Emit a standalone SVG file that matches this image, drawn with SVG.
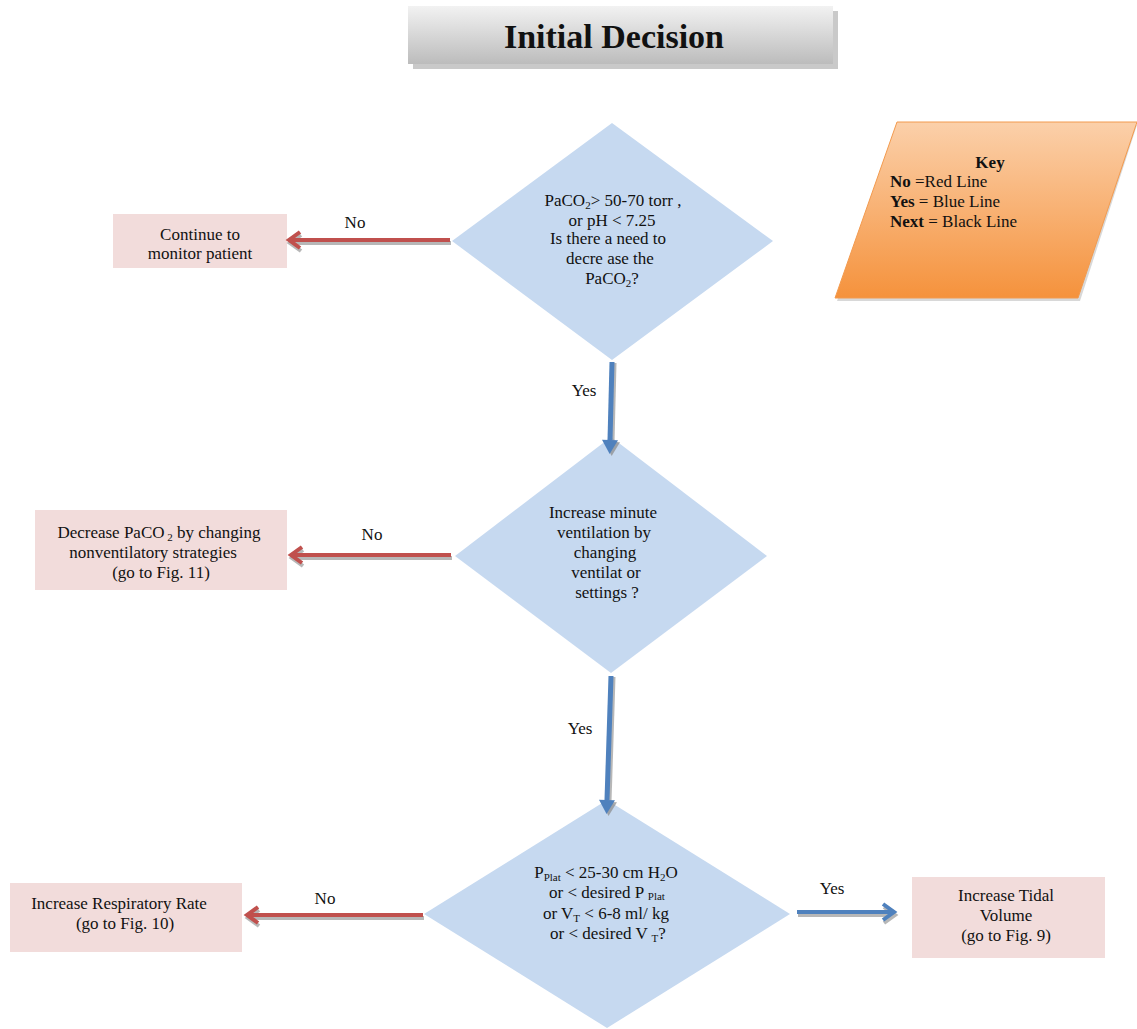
<svg xmlns="http://www.w3.org/2000/svg" width="1137" height="1029" viewBox="0 0 1137 1029">
  <style>
    text { font-family: "Liberation Serif", "Times New Roman", serif; fill: #111; }
    .t { font-size: 17px; text-anchor: middle; }
    .lbl { font-size: 17px; text-anchor: middle; }
    .key { font-size: 17px; }
    .b { font-weight: bold; }
    .sub { font-size: 11px; }
    .diamond { fill: #c6d9f0; }
    .box { fill: #f2dcdb; }
    .no { stroke: #c0504d; stroke-width: 4; fill: none; }
    .yes { stroke: #4f81bd; stroke-width: 5; fill: none; }
    .shadow { stroke: #9a9a9a; opacity: 0.7; }
  </style>
  <defs>
    <linearGradient id="titleFill" x1="0" y1="0" x2="0" y2="1">
      <stop offset="0" stop-color="#f2f2f2"/>
      <stop offset="1" stop-color="#bcbcbc"/>
    </linearGradient>
    <linearGradient id="keyFill" x1="0" y1="0" x2="0" y2="1">
      <stop offset="0" stop-color="#fbd0aa"/>
      <stop offset="1" stop-color="#f5923c"/>
    </linearGradient>
    <marker id="chevRed" viewBox="-16 -12 20 24" refX="-2" refY="0" markerWidth="20" markerHeight="24" markerUnits="userSpaceOnUse" orient="auto" overflow="visible">
      <path d="M-12,-8 L-1,0 L-12,8" fill="none" stroke="#c0504d" stroke-width="4"/>
    </marker>
    <marker id="chevBlue" viewBox="-16 -12 20 24" refX="-2" refY="0" markerWidth="20" markerHeight="24" markerUnits="userSpaceOnUse" orient="auto" overflow="visible">
      <path d="M-12,-8 L-1,0 L-12,8" fill="none" stroke="#4f81bd" stroke-width="4"/>
    </marker>
    <marker id="chevGray" viewBox="-16 -12 20 24" refX="-2" refY="0" markerWidth="20" markerHeight="24" markerUnits="userSpaceOnUse" orient="auto" overflow="visible">
      <path d="M-12,-8 L-1,0 L-12,8" fill="none" stroke="#9a9a9a" stroke-width="4"/>
    </marker>
    <marker id="triBlue" viewBox="-16 -10 18 20" refX="-14" refY="0" markerWidth="18" markerHeight="20" markerUnits="userSpaceOnUse" orient="auto" overflow="visible">
      <path d="M-14,-8 L0,0 L-14,8 Z" fill="#4f81bd"/>
    </marker>
    <marker id="triGray" viewBox="-16 -10 18 20" refX="-14" refY="0" markerWidth="18" markerHeight="20" markerUnits="userSpaceOnUse" orient="auto" overflow="visible">
      <path d="M-14,-8 L0,0 L-14,8 Z" fill="#8a8a8a"/>
    </marker>
  </defs>

  <rect width="1137" height="1029" fill="#ffffff"/>

  <!-- Title banner -->
  <g id="title">
    <rect x="413" y="11" width="425" height="58" fill="#c9c9c9"/>
    <rect x="408" y="6" width="425" height="58" fill="url(#titleFill)"/>
    <text x="614" y="48" class="b" style="font-size:34px" text-anchor="middle">Initial Decision</text>
  </g>

  <!-- Legend -->
  <g id="key">
    <polygon points="899,125 1137,125 1080,301 837,301" fill="#d8d8d8"/>
    <polygon points="897,122 1137,122 1078,298 835,298" fill="url(#keyFill)" stroke="#f29a4e" stroke-width="1"/>
    <text x="990" y="168" class="key b" text-anchor="middle">Key</text>
    <text x="890" y="187" class="key"><tspan class="b">No </tspan> =Red Line</text>
    <text x="890" y="207" class="key"><tspan class="b">Yes</tspan> = Blue Line</text>
    <text x="890" y="227" class="key"><tspan class="b">Next</tspan> = Black Line</text>
  </g>

  <!-- Decision 1 -->
  <g id="d1">
    <polygon points="612,123 773,241 612,360 452,241" class="diamond"/>
    <text class="t" x="613" y="206">PaCO<tspan class="sub" dy="3">2</tspan><tspan dy="-3">&gt; 50-70 torr ,</tspan></text>
    <text class="t" x="612" y="226">or pH &lt; 7.25</text>
    <text class="t" x="608" y="244">Is there a need to</text>
    <text class="t" x="610" y="264">decre ase the</text>
    <text class="t" x="612" y="284">PaCO<tspan class="sub" dy="3">2</tspan><tspan dy="-3">?</tspan></text>
  </g>

  <!-- Outcome: keep monitoring -->
  <g id="monitor">
    <rect x="113" y="214" width="174" height="54" class="box"/>
    <text class="t" x="200" y="240">Continue to</text>
    <text class="t" x="200" y="259">monitor patient</text>
  </g>

  <!-- Decision 2 -->
  <g id="d2">
    <polygon points="611,437 767,556 611,673 455,556" class="diamond"/>
    <text class="t" x="603" y="518">Increase minute</text>
    <text class="t" x="604" y="538">ventilation by</text>
    <text class="t" x="605" y="558">changing</text>
    <text class="t" x="606" y="578">ventilat or</text>
    <text class="t" x="607" y="598">settings ?</text>
  </g>

  <!-- Outcome: nonventilatory strategies -->
  <g id="nonvent">
    <rect x="35" y="510" width="252" height="80" class="box"/>
    <text class="t" x="159" y="538">Decrease PaCO<tspan class="sub" dy="3"> 2</tspan><tspan dy="-3"> by changing</tspan></text>
    <text class="t" x="153" y="558">nonventilatory strategies</text>
    <text class="t" x="161" y="578">(go to Fig. 11)</text>
  </g>

  <!-- Decision 3 -->
  <g id="d3">
    <polygon points="607,800 790,914 607,1028 424,914" class="diamond"/>
    <text class="t" x="606" y="878">P<tspan class="sub" dy="3">Plat</tspan><tspan dy="-3"> &lt; 25-30 cm H</tspan><tspan class="sub" dy="3">2</tspan><tspan dy="-3">O</tspan></text>
    <text class="t" x="607" y="898">or &lt; desired P <tspan class="sub" dy="2">Plat</tspan></text>
    <text class="t" x="606" y="919">or V<tspan class="sub" dy="3">T</tspan><tspan dy="-3"> &lt; 6-8 ml/ kg</tspan></text>
    <text class="t" x="608" y="939">or &lt; desired V <tspan class="sub" dy="3">T</tspan><tspan dy="-3">?</tspan></text>
  </g>

  <!-- Outcome: respiratory rate -->
  <g id="rate">
    <rect x="10" y="883" width="232" height="69" class="box"/>
    <text class="t" x="119" y="909">Increase Respiratory Rate</text>
    <text class="t" x="125" y="929">(go to Fig. 10)</text>
  </g>

  <!-- Outcome: tidal volume -->
  <g id="tidal">
    <rect x="912" y="877" width="193" height="81" class="box"/>
    <text class="t" x="1006" y="901">Increase Tidal</text>
    <text class="t" x="1006" y="921">Volume</text>
    <text class="t" x="1006" y="941">(go to Fig. 9)</text>
  </g>

  <!-- Connectors, drawn over the shapes so arrowheads overlap the diamond tips -->
  <g id="connectors">
    <g id="c-d1-no">
      <line x1="451" y1="243" x2="291" y2="243" class="no shadow" marker-end="url(#chevGray)"/>
      <line x1="450" y1="240" x2="290" y2="240" class="no" marker-end="url(#chevRed)"/>
    </g>
    <g id="c-d1-yes">
      <line x1="614" y1="363" x2="612" y2="442" class="yes shadow" marker-end="url(#triGray)"/>
      <line x1="612" y1="362" x2="610" y2="440" class="yes" marker-end="url(#triBlue)"/>
    </g>
    <g id="c-d2-no">
      <line x1="452" y1="558" x2="293" y2="558" class="no shadow" marker-end="url(#chevGray)"/>
      <line x1="451" y1="555" x2="292" y2="555" class="no" marker-end="url(#chevRed)"/>
    </g>
    <g id="c-d2-yes">
      <line x1="613" y1="677" x2="609" y2="802" class="yes shadow" marker-end="url(#triGray)"/>
      <line x1="611" y1="676" x2="607" y2="800" class="yes" marker-end="url(#triBlue)"/>
    </g>
    <g id="c-d3-no">
      <line x1="424" y1="918" x2="249" y2="918" class="no shadow" marker-end="url(#chevGray)"/>
      <line x1="423" y1="915" x2="248" y2="915" class="no" marker-end="url(#chevRed)"/>
    </g>
    <g id="c-d3-yes">
      <line x1="798" y1="915" x2="894" y2="915" class="no shadow" marker-end="url(#chevGray)"/>
      <line x1="797" y1="912" x2="893" y2="912" class="no" style="stroke:#4f81bd" marker-end="url(#chevBlue)"/>
    </g>
    <text x="355" y="228" class="lbl">No</text>
    <text x="584" y="396" class="lbl">Yes</text>
    <text x="372" y="540" class="lbl">No</text>
    <text x="580" y="734" class="lbl">Yes</text>
    <text x="325" y="904" class="lbl">No</text>
    <text x="832" y="894" class="lbl">Yes</text>
  </g>
</svg>
